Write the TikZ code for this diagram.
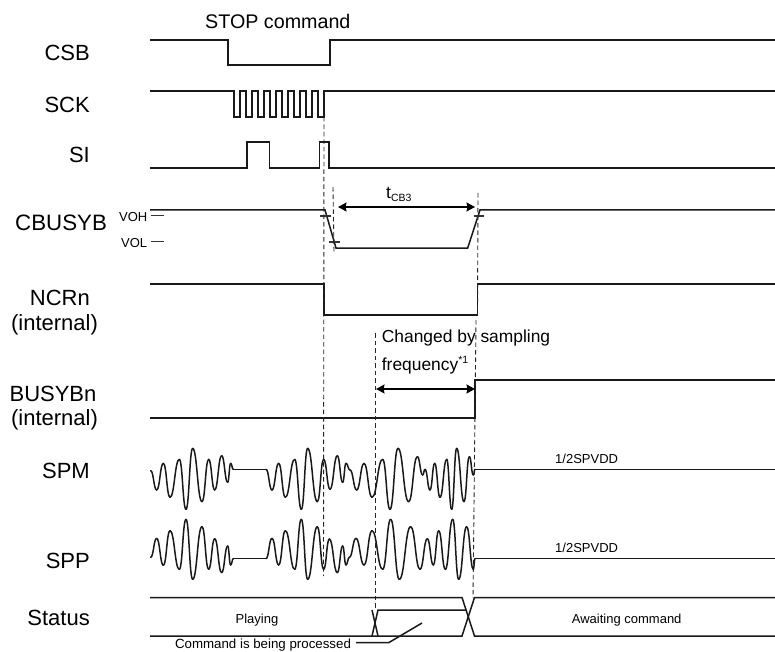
\documentclass[tikz,border=0pt]{standalone}
\usepackage{fontspec}
\setmainfont{Liberation Sans}
\usetikzlibrary{arrows.meta}
\newcommand{\fsz}[1]{\fontsize{#1}{#1}\selectfont}
\newcommand{\sinepath}[3]{%
  \foreach \x/\y [remember=\x as \px (initially #1), remember=\y as \py (initially #2)] in {#3} {
    \draw[sine] (\px,\py) .. controls ({\px+0.48*(\x-\px)},\py) and ({\x-0.48*(\x-\px)},\y) .. (\x,\y);
  }}
\tikzset{
  wave/.style={line width=1.5pt,line join=miter,black!90},
  sine/.style={line width=1.5pt,black!90,line cap=round},
  dash line/.style={line width=0.9pt,dash pattern=on 4.5pt off 3pt,black!85},
  span arrow/.style={line width=1.6pt,{Stealth[length=8.5pt,width=9pt,inset=1pt]}-{Stealth[length=8.5pt,width=9pt,inset=1pt]}},
  tick line/.style={line width=1.1pt,black!80},
  siglabel/.style={anchor=base east,inner sep=0pt,font=\fsz{22}},
  midlabel/.style={anchor=base,inner sep=0pt,font=\fsz{22}},
  smalltext/.style={anchor=base,inner sep=0pt,font=\fsz{13}},
  leftsmall/.style={anchor=base west,inner sep=0pt,font=\fsz{13}},
  bodytext/.style={anchor=base west,inner sep=0pt,font=\fsz{17.4}},
}
\begin{document}
\begin{tikzpicture}[x=1pt,y=-1pt]
\useasboundingbox (0,0) rectangle (775,652);
\fill[white] (0,0) rectangle (775,652);
% labels
\node[anchor=base west,inner sep=0pt,font=\fsz{19.7}] (lstop) at (205,28.3) {STOP command};
\node[siglabel] (lcsb) at (90,60.7) {CSB};
\node[siglabel] (lsck) at (90,112.7) {SCK};
\node[siglabel] (lsi) at (90,163) {SI};
\node[anchor=base west,inner sep=0pt,font=\fsz{22.3}] (lcb) at (15,230.7) {CBUSYB};
\node[leftsmall] (lvoh) at (119,221.7) {VOH};
\node[leftsmall] (lvol) at (121,247.7) {VOL};
\node[siglabel] (lncr) at (90,305.7) {NCRn};
\node[midlabel] (lncri) at (54.5,330) {(internal)};
\node[midlabel] (lbus) at (53,401) {BUSYBn};
\node[midlabel] (lbusi) at (54.5,425) {(internal)};
\node[siglabel] (lspm) at (90,478) {SPM};
\node[siglabel] (lspp) at (90,568) {SPP};
\node[siglabel] (lst) at (90,625) {Status};
% waveforms
\draw[wave] (150,40) -- (228,40) -- (228,65) -- (330,65) -- (330,40) -- (775,40);
\draw[wave] (150,91) -- (234,91)
  \foreach \k in {0,...,7} { -- ({234+12*\k},117) -- ({240+12*\k},117) -- ({240+12*\k},91) -- ({246+12*\k},91) }
  -- (775,91);
\draw[wave] (150,168) -- (247,168) -- (247,142) -- (269.5,142) -- (269.5,168) -- (319.5,168) -- (319.5,142) -- (329,142) -- (329,168) -- (775,168);
\draw[wave] (150,210) -- (325,210) -- (336,248) -- (467.7,248) -- (480,210) -- (775,210);
\draw[wave] (150,284) -- (324,284) -- (324,315) -- (477.5,315) -- (477.5,284) -- (775,284);
\draw[wave] (150,418) -- (475,418) -- (475,380) -- (775,380);
% ticks
\draw[tick line] (151,215.7) -- (164,215.7);
\draw[tick line] (151,241.7) -- (164,241.7);
\draw[tick line] (320,216) -- (331,216);
\draw[tick line] (329,242) -- (340,242);
\draw[tick line] (474,216) -- (484,216);
% dashed
\draw[dash line] (324,117) -- (323.5,576);
\draw[dash line] (333,187) -- (334,252);
\draw[dash line] (478,193) -- (477.5,315) (476,320) -- (473,598);
\draw[dash line] (375.3,333) -- (375.3,610);
% spans
\draw[span arrow] (338,207) -- (475,207);
\node[bodytext] (ltcb) at (386,199) {t\raisebox{-2.5pt}{\fsz{10.5}CB3}};
\draw[span arrow] (376,389) -- (475,389);
\node[bodytext] (lch) at (381.7,342.7) {Changed by sampling};
\node[bodytext] (lfr) at (381.7,370) {frequency\raisebox{7pt}{\fsz{10.5}*1}};
% SPM and SPP
\begin{scope}[shift={(140,440)},x=0.33333pt,y=-0.33333pt]
\sinepath{32}{92}{50/150,70/70,90/172,118/58,138/208,158/25,186/185,206/58,224/150,245/47,263/127,272/70,280/88}
\draw[sine] (280,88) -- (378,88);
\sinepath{378}{88}{396/150,416/70,436/172,464/58,484/208,503/25,532/185,551/58,570/148,592/47,608/127,618/70,630/90,650/150,672/70,696/172,728/58,750/208,774/25,806/185,832/50,848/105,855/88,870/150,884/70,900/172,920/58,935/208,950/25,972/185,988/50,1000/105,1005/88}
\draw[sine] (1005,88) -- (1905,88);
\sinepath{32}{352}{50/295,70/376,90/272,118/388,138/238,158/418,186/260,206/388,224/296,245/398,263/318,272/375,280/356}
\draw[sine] (280,356) -- (378,356);
\sinepath{378}{356}{396/295,416/375,436/272,464/388,484/238,503/418,532/260,551/388,568/297,592/398,608/318,618/375,628/352,648/295,672/375,696/272,728/388,752/238,778/418,812/260,840/388,862/296,880/375,896/272,916/388,938/238,956/418,980/260,1000/388,1005/356}
\draw[sine] (1005,356) -- (1905,356);
\end{scope}
\node[leftsmall] (lsv1) at (555,463.3) {1/2SPVDD};
\node[leftsmall] (lsv2) at (555,552.7) {1/2SPVDD};
% status
\draw[wave] (150,597.5) -- (462,597.5) -- (474.5,636) -- (775,636);
\draw[wave] (150,636) -- (462,636) -- (474.5,597.5) -- (775,597.5);
\draw[wave] (372,610) -- (378,636);
\draw[wave] (372,636) -- (378,610) -- (466,610);
\draw[wave] (422,623) -- (389,642.5) -- (356,642.5);
\node[smalltext] (lplay) at (257,623) {Playing};
\node[leftsmall] (lawait) at (571.7,623) {Awaiting command};
\node[smalltext,font=\fsz{13.3}] (lcmd) at (263,648) {Command is being processed};
\end{tikzpicture}
\end{document}
